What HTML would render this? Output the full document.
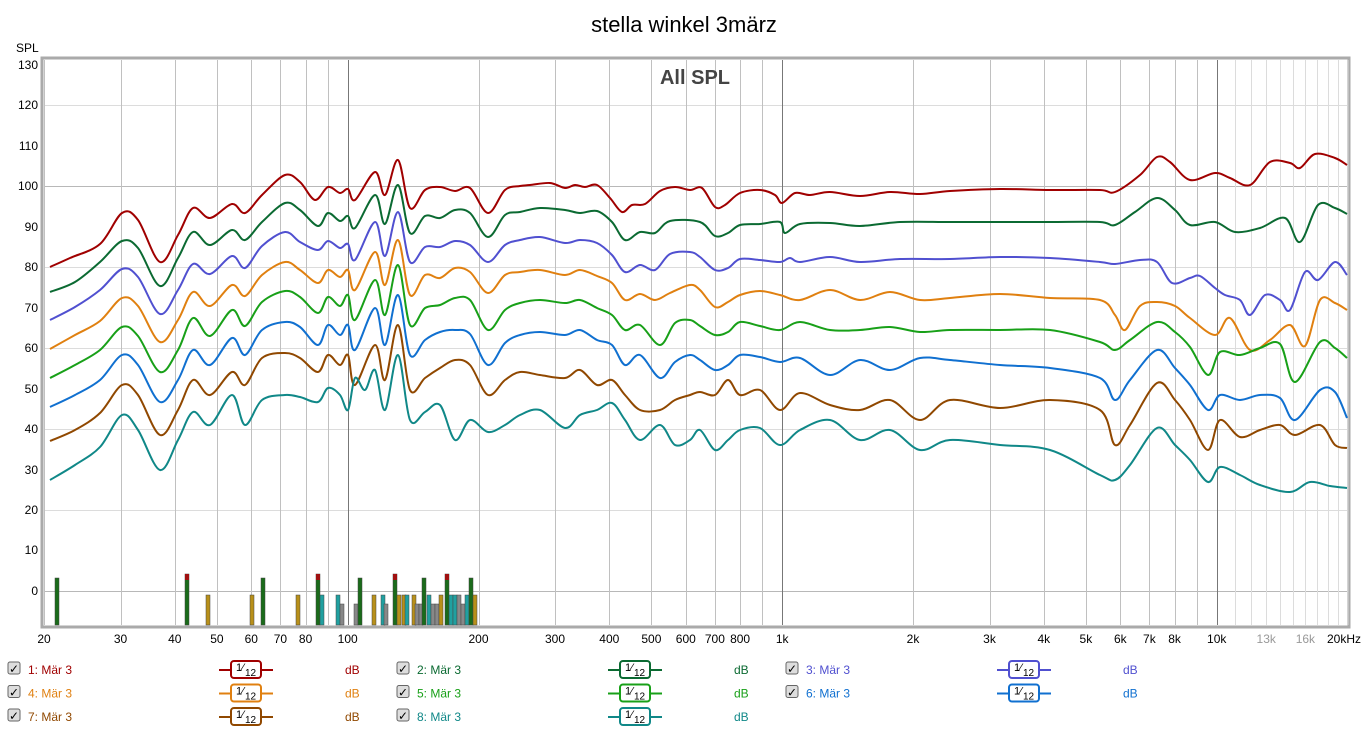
<!DOCTYPE html>
<html><head><meta charset="utf-8"><style>
body{margin:0;width:1369px;height:732px;background:#fff;overflow:hidden;font-family:"Liberation Sans",sans-serif;position:relative}
.yl{position:absolute;left:0;width:38px;text-align:right;font-size:12px;line-height:14px;color:#000}
svg{position:absolute;left:0;top:0}
</style></head><body>
<svg id="s" width="1369" height="732" xmlns="http://www.w3.org/2000/svg" font-family="Liberation Sans, sans-serif"></svg>
<div class="yl" style="top:58px">130</div>
<div class="yl" style="top:98px">120</div>
<div class="yl" style="top:139px">110</div>
<div class="yl" style="top:179px">100</div>
<div class="yl" style="top:220px">90</div>
<div class="yl" style="top:260px">80</div>
<div class="yl" style="top:301px">70</div>
<div class="yl" style="top:341px">60</div>
<div class="yl" style="top:382px">50</div>
<div class="yl" style="top:422px">40</div>
<div class="yl" style="top:463px">30</div>
<div class="yl" style="top:503px">20</div>
<div class="yl" style="top:543px">10</div>
<div class="yl" style="top:584px">0</div>
<script>
const s=document.getElementById('s');let h='';
const X=f=>44+434.5*Math.log10(f/20), Y=v=>591-v*40.46;
const R=v=>Math.round(v)+0.5;
h+='<text x="684" y="32" font-size="22" text-anchor="middle">stella winkel 3märz</text>';
h+='<text x="16" y="52" font-size="12">SPL</text>';
h+='<rect x="42" y="58" width="1307" height="569" fill="#fff" stroke="#aaa" stroke-width="3"/>';
for(let k=-4;k<=66;k++){let v=k*2;let y=Y(v);if(y<60||y>625)continue;h+=`<line x1="44" x2="1347" y1="${R(y)}" y2="${R(y)}" stroke="${k%5==0?'#b8b8b8':'#dcdcdc'}" stroke-width="1"/>`;}
for(let dec=10;dec<=10000;dec*=10)for(let m=1;m<10;m++){let f=m*dec;if(f<20||f>20000)continue;let c=(f==100||f==1000||f==10000)?'#777':'#c0c0c0';h+=`<line x1="${R(X(f))}" x2="${R(X(f))}" y1="60" y2="625" stroke="${c}"/>`;}
for(let f=11000;f<20000;f+=1000){h+=`<line x1="${R(X(f))}" x2="${R(X(f))}" y1="60" y2="625" stroke="#dcdcdc"/>`;}
const xl=[[20,'20'],[30,'30'],[40,'40'],[50,'50'],[60,'60'],[70,'70'],[80,'80'],[100,'100'],[200,'200'],[300,'300'],[400,'400'],[500,'500'],[600,'600'],[700,'700'],[800,'800'],[1000,'1k'],[2000,'2k'],[3000,'3k'],[4000,'4k'],[5000,'5k'],[6000,'6k'],[7000,'7k'],[8000,'8k'],[10000,'10k'],[13000,'13k','#999'],[16000,'16k','#999']];
xl.forEach(a=>h+=`<text x="${X(a[0])}" y="643" font-size="12" text-anchor="middle" fill="${a[2]||'#000'}">${a[1]}</text>`);
h+='<text x="1327" y="643" font-size="12">20kHz</text>';
h+='<text x="695" y="84" font-size="20" font-weight="bold" fill="#444" text-anchor="middle">All SPL</text>';
const bars=[[57,578,'#1a6b1a'],[187,574,'#1a6b1a'],[208,595,'#b8901a'],[252,595,'#b8901a'],[263,578,'#1a6b1a'],[298,595,'#b8901a'],[318,574,'#1a6b1a'],[322,595,'#20a0a0'],[338,595,'#20a0a0'],[342,604,'#888'],[356,604,'#888'],[360,578,'#1a6b1a'],[374,595,'#b8901a'],[383,595,'#20a0a0'],[386,604,'#888'],[395,574,'#1a6b1a'],[399,595,'#b8901a'],[404,595,'#b8901a'],[407,595,'#20a0a0'],[414,595,'#b8901a'],[417,604,'#888'],[421,604,'#888'],[424,578,'#1a6b1a'],[429,595,'#20a0a0'],[433,604,'#888'],[437,604,'#888'],[441,595,'#b8901a'],[447,574,'#1a6b1a'],[451,595,'#20a0a0'],[455,595,'#20a0a0'],[459,595,'#888'],[463,604,'#888'],[467,595,'#20a0a0'],[471,578,'#1a6b1a'],[475,595,'#b8901a']];
bars.forEach(b=>{h+=`<rect x="${b[0]-2}" y="${b[1]}" width="4" height="${625-b[1]}" fill="${b[2]}" stroke="#444" stroke-width="0.5"/>`;if(b[1]==574)h+=`<rect x="${b[0]-2}" y="574" width="4" height="6" fill="#a01010"/>`;});
const C={
'#a00000':[[50,267],[70,258],[100,244],[122,213],[138,220],[160,262],[178,235],[193,208],[210,218],[232,204],[245,213],[262,195],[285,175],[300,182],[315,200],[328,187],[340,193],[348,189],[355,200],[375,172],[385,195],[398,160],[410,208],[425,190],[440,187],[455,191],[470,188],[488,213],[505,190],[520,186],[530,185],[550,183],[565,188],[575,185],[585,187],[597,185],[610,198],[622,212],[632,205],[645,204],[660,191],[675,187],[690,190],[702,188],[715,207],[725,205],[740,193],[760,190],[775,195],[782,203],[795,193],[810,195],[830,192],[860,196],[890,192],[920,194],[950,191],[1000,189],[1050,190],[1100,190],[1115,192],[1140,175],[1157,157],[1170,162],[1190,180],[1215,173],[1230,178],[1250,185],[1270,162],[1290,163],[1300,168],[1315,154],[1335,158],[1347,165]],
'#0b6a32':[[50,292],[75,282],[100,262],[122,241],[138,248],[160,286],[178,258],[193,232],[210,245],[232,230],[245,240],[262,222],[285,203],[300,210],[318,226],[328,213],[340,221],[348,216],[355,228],[375,195],[385,224],[398,185],[410,233],[425,216],[440,218],[455,210],[470,213],[488,237],[505,215],[520,212],[540,208],[565,210],[580,213],[597,211],[612,222],[625,240],[640,232],[655,233],[670,221],[700,222],[715,236],[728,233],[740,225],[760,224],[780,222],[785,233],[800,224],[830,223],[860,226],[900,222],[950,222],[1000,222],[1050,222],[1100,222],[1115,225],[1135,212],[1157,198],[1175,210],[1190,225],[1215,222],[1235,232],[1260,228],[1285,218],[1300,242],[1318,205],[1335,208],[1347,214]],
'#5050d0':[[50,320],[75,307],[100,290],[122,269],[138,277],[160,314],[178,290],[193,264],[210,274],[232,256],[245,268],[262,246],[285,232],[300,242],[318,250],[328,241],[340,248],[348,244],[355,260],[375,222],[385,256],[398,212],[410,262],[425,247],[440,247],[455,241],[470,245],[488,262],[505,245],[520,240],[540,237],[565,243],[580,240],[597,243],[612,255],[625,272],[640,265],[655,270],[670,254],[690,252],[700,257],[715,270],[728,268],[740,259],[760,260],[780,262],[790,258],[800,262],[830,257],[860,262],[900,259],[950,259],[1000,257],[1050,258],[1100,262],[1115,264],[1140,260],[1157,262],[1172,283],[1190,278],[1200,276],[1215,288],[1225,295],[1240,300],[1250,315],[1265,295],[1280,300],[1290,310],[1305,272],[1318,280],[1335,262],[1347,275]],
'#e08010':[[50,349],[75,335],[100,321],[122,298],[138,306],[160,342],[178,320],[193,292],[210,306],[232,285],[245,296],[262,275],[285,262],[300,270],[318,283],[328,270],[340,277],[348,270],[355,290],[375,252],[385,285],[398,240],[410,295],[425,275],[440,278],[455,268],[470,272],[488,293],[505,275],[520,272],[540,270],[565,275],[580,270],[597,276],[612,283],[625,300],[640,294],[655,300],[670,293],[690,285],[700,290],[715,307],[728,302],[740,295],[760,291],[780,295],[800,300],[830,290],[860,300],[890,292],[920,300],[950,298],[1000,294],[1050,298],[1100,300],[1115,315],[1125,330],[1140,306],[1157,302],[1175,306],[1190,318],[1215,335],[1230,318],[1250,350],[1270,340],[1290,325],[1305,346],[1320,300],[1335,303],[1347,310]],
'#18a018':[[50,378],[75,365],[100,350],[122,327],[138,336],[160,372],[178,350],[193,318],[210,336],[232,310],[245,326],[262,302],[285,291],[300,297],[318,313],[328,297],[340,306],[348,295],[355,320],[375,280],[385,315],[398,265],[410,325],[425,308],[440,305],[455,298],[470,300],[488,330],[505,310],[520,303],[540,300],[565,303],[580,300],[597,308],[612,315],[625,330],[640,325],[660,345],[675,323],[690,320],[700,326],[715,335],[728,332],[740,322],[760,326],[780,330],[800,322],[830,330],[860,330],[890,327],[920,332],[950,330],[1000,330],[1050,330],[1100,342],[1115,350],[1130,340],[1157,322],[1175,332],[1190,347],[1208,375],[1220,352],[1240,355],[1260,348],[1280,344],[1295,382],[1320,342],[1335,348],[1347,358]],
'#1070d0':[[50,407],[75,395],[100,380],[122,355],[138,365],[160,402],[178,380],[193,350],[210,365],[232,338],[245,355],[262,330],[285,322],[300,327],[318,345],[328,325],[340,335],[348,325],[355,350],[375,308],[385,345],[398,295],[410,355],[425,340],[440,332],[455,330],[470,334],[488,365],[505,343],[520,335],[540,332],[565,335],[580,330],[597,340],[612,345],[625,365],[640,355],[660,378],[675,362],[690,355],[700,360],[715,370],[728,365],[740,355],[760,357],[780,362],[800,358],[830,375],[860,360],[890,370],[920,358],[950,360],[1000,365],[1050,368],[1100,378],[1115,400],[1130,380],[1157,350],[1175,368],[1190,385],[1208,410],[1220,395],[1240,400],[1260,395],[1280,398],[1295,420],[1320,390],[1335,392],[1347,418]],
'#904800':[[50,441],[75,430],[100,413],[122,385],[138,395],[160,435],[178,410],[193,380],[210,395],[232,372],[245,385],[262,358],[285,353],[300,358],[318,372],[328,355],[340,365],[348,355],[355,385],[375,345],[385,380],[398,325],[410,390],[425,378],[440,368],[455,360],[470,365],[488,395],[505,380],[520,372],[540,375],[565,378],[580,370],[597,385],[612,380],[625,395],[640,410],[660,410],[675,400],[690,395],[700,392],[715,395],[728,380],[740,395],[760,390],[780,410],[800,393],[830,405],[860,410],[890,400],[920,420],[950,400],[1000,408],[1050,400],[1100,410],[1115,445],[1130,425],[1157,383],[1175,400],[1190,420],[1208,450],[1220,420],[1240,437],[1260,430],[1280,425],[1295,435],[1320,425],[1335,445],[1347,448]],
'#108888':[[50,480],[75,465],[100,447],[122,415],[138,430],[160,470],[178,440],[193,412],[210,425],[232,395],[245,425],[262,400],[285,395],[300,397],[318,402],[328,388],[340,395],[348,410],[355,378],[365,390],[375,370],[385,410],[398,355],[410,420],[425,412],[440,405],[455,440],[470,420],[488,432],[505,425],[520,415],[540,410],[565,428],[580,415],[597,410],[612,403],[625,420],[640,440],[660,425],[675,445],[690,440],[700,430],[715,450],[728,440],[740,430],[760,428],[780,445],[800,430],[830,420],[860,440],[890,430],[920,450],[950,440],[1000,445],[1050,450],[1100,475],[1115,480],[1130,465],[1157,428],[1175,445],[1190,460],[1208,482],[1220,467],[1240,475],[1260,485],[1290,492],[1310,482],[1330,486],[1347,488]]};
function path(p){let d=`M${p[0][0]},${p[0][1]}`;for(let i=0;i<p.length-1;i++){let a=p[Math.max(0,i-1)],b=p[i],c=p[i+1],e=p[Math.min(p.length-1,i+2)];d+=`C${b[0]+(c[0]-a[0])/6},${b[1]+(c[1]-a[1])/6} ${c[0]-(e[0]-b[0])/6},${c[1]-(e[1]-b[1])/6} ${c[0]},${c[1]}`;}return d;}
for(const k in C)h+=`<path d="${path(C[k])}" fill="none" stroke="${k}" stroke-width="2"/>`;
const lc=['#a00000','#0b6a32','#5050d0','#e08010','#18a018','#1070d0','#904800','#108888'];
for(let i=0;i<8;i++){let r=Math.floor(i/3),c=i%3,x0=8+c*389,y0=670+r*23.5,col=lc[i];
h+=`<rect x="${x0}" y="${y0-8}" width="12" height="12" fill="#ddd" stroke="#666" rx="2"/><text x="${x0+1}" y="${y0+3}" font-size="12">✓</text>`;
h+=`<text x="${x0+20}" y="${y0+4}" font-size="12" fill="${col}">${i+1}: Mär 3</text>`;
h+=`<line x1="${x0+211}" x2="${x0+265}" y1="${y0}" y2="${y0}" stroke="${col}" stroke-width="2"/><rect x="${x0+223}" y="${y0-9}" width="30" height="17" rx="3" fill="#fff" stroke="${col}" stroke-width="2"/><text x="${x0+228}" y="${y0+1}" font-size="11">1⁄</text><text x="${x0+237}" y="${y0+6}" font-size="10">12</text>`;
h+=`<text x="${x0+337}" y="${y0+4}" font-size="12" fill="${col}">dB</text>`;}
s.innerHTML=h;
</script>
</body></html>
